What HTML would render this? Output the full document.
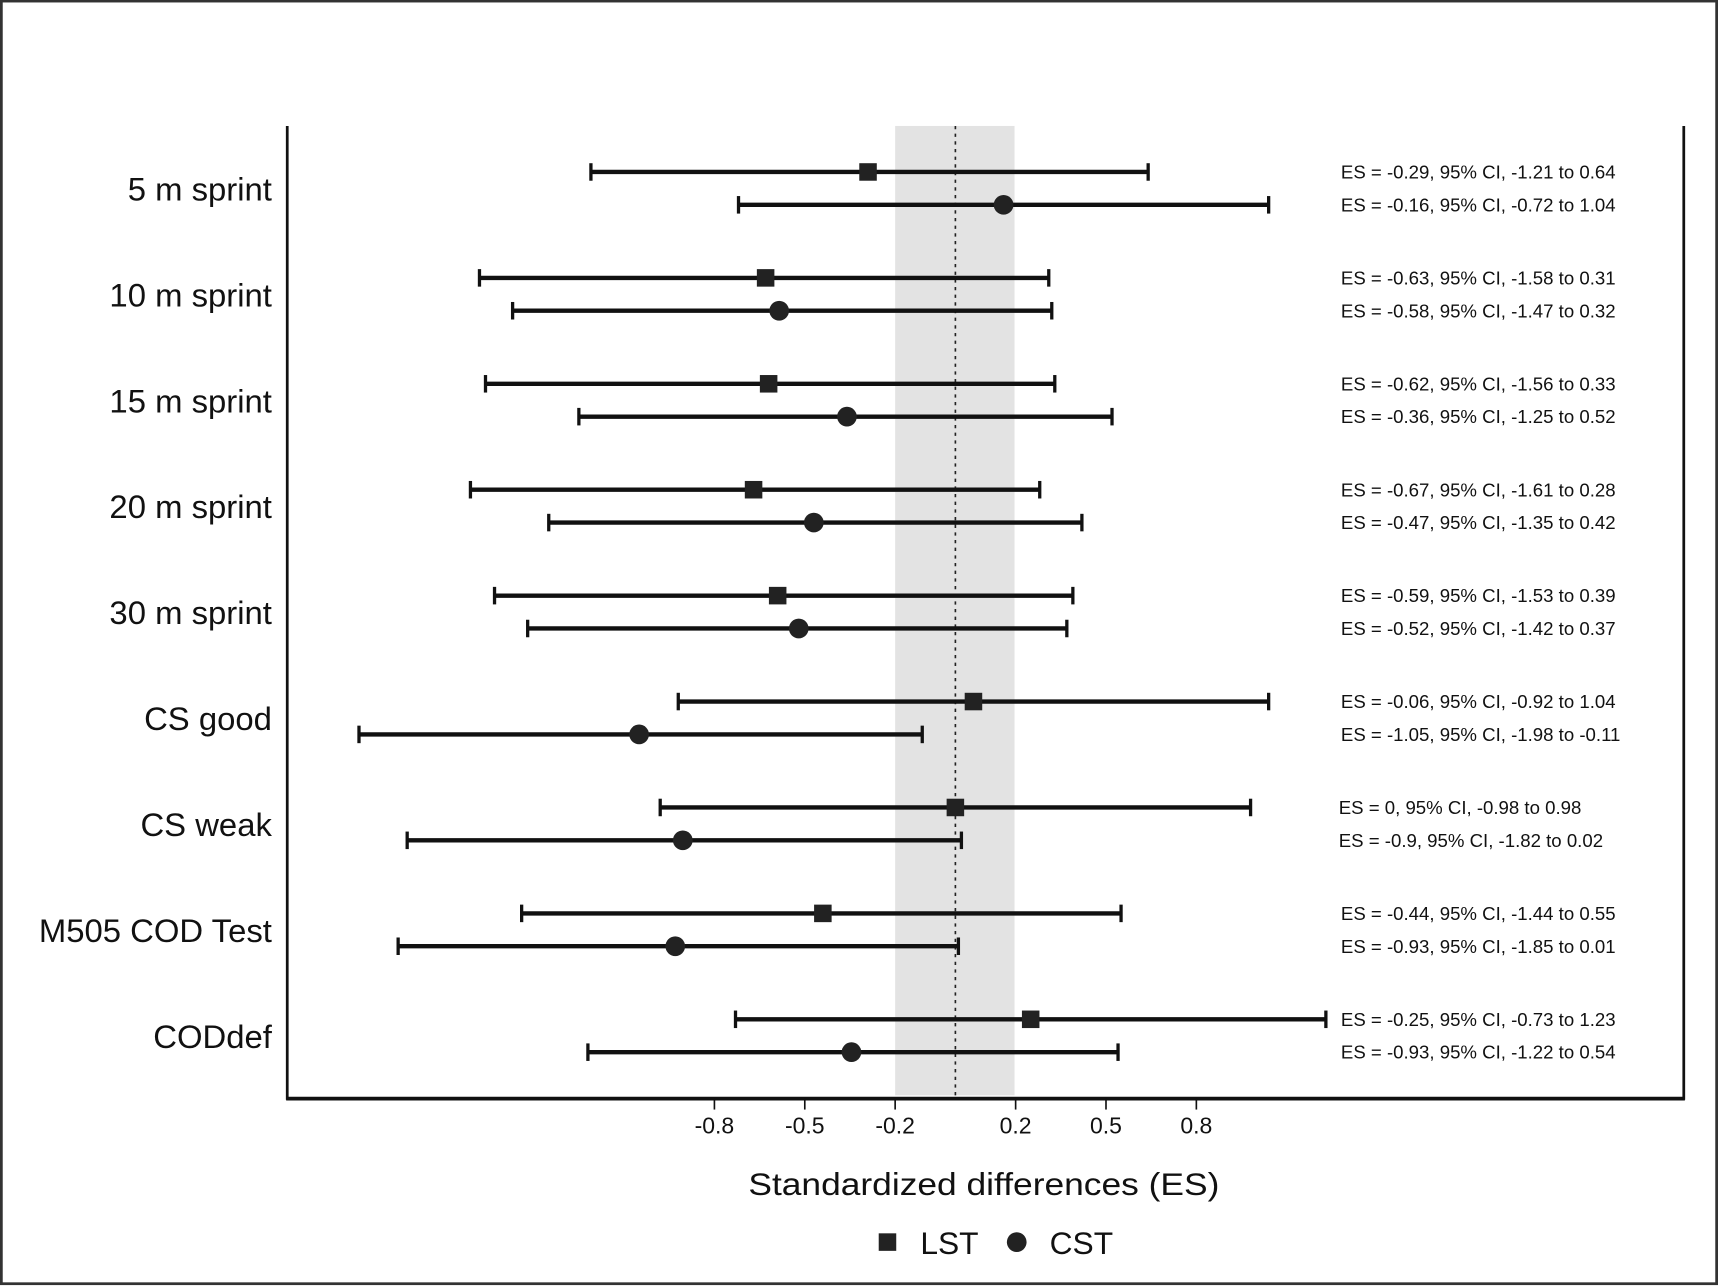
<!DOCTYPE html>
<html><head><meta charset="utf-8"><style>
html,body{margin:0;padding:0;background:#fff;}
svg{display:block;font-family:"Liberation Sans",Arial,sans-serif;}
</style></head><body>
<svg id="chart" width="1718" height="1287" viewBox="0 0 1568 1175" xmlns="http://www.w3.org/2000/svg">
<rect x="1" y="1" width="1566" height="1171" fill="#fff" stroke="#333" stroke-width="2.5"/>
<rect x="817" y="115" width="109" height="885" fill="#e3e3e3"/>
<line x1="872" y1="115" x2="872" y2="1002" stroke="#222" stroke-width="1.5" stroke-dasharray="3,4"/>
<g stroke="#111" fill="none">
<line x1="262" y1="115" x2="262" y2="1004" stroke-width="2.5"/>
<line x1="1537" y1="115" x2="1537" y2="1004" stroke-width="2.5"/>
<line x1="261" y1="1003" x2="1538" y2="1003" stroke-width="3.5"/>
</g>
<g id="ticks"></g>
<g id="rows"></g>
<text x="898" y="1091" font-size="29" text-anchor="middle" textLength="430" lengthAdjust="spacingAndGlyphs" fill="#111">Standardized differences (ES)</text>
<g>
<rect x="802" y="1126" width="16" height="16" fill="#222"/>
<text x="840" y="1145" font-size="29" fill="#111">LST</text>
<circle cx="928" cy="1134" r="9" fill="#222"/>
<text x="958" y="1145" font-size="29" fill="#111">CST</text>
</g>
</svg>
<script>
const categories = ["5 m sprint","10 m sprint","15 m sprint","20 m sprint","30 m sprint","CS good","CS weak","M505 COD Test","CODdef"];
const lstES = [-0.29,-0.63,-0.62,-0.67,-0.59,0.06,0,-0.44,0.25];
const lstLo = [-1.21,-1.58,-1.56,-1.61,-1.53,-0.92,-0.98,-1.44,-0.73];
const lstHi = [0.64,0.31,0.33,0.28,0.39,1.04,0.98,0.55,1.23];
const cstES = [0.16,-0.585,-0.36,-0.47,-0.52,-1.05,-0.905,-0.93,-0.345];
const cstLo = [-0.72,-1.47,-1.25,-1.35,-1.42,-1.98,-1.82,-1.85,-1.22];
const cstHi = [1.04,0.32,0.52,0.42,0.37,-0.11,0.02,0.01,0.54];
const lstLabels = ["ES = -0.29, 95% CI, -1.21 to 0.64","ES = -0.63, 95% CI, -1.58 to 0.31","ES = -0.62, 95% CI, -1.56 to 0.33","ES = -0.67, 95% CI, -1.61 to 0.28","ES = -0.59, 95% CI, -1.53 to 0.39","ES = -0.06, 95% CI, -0.92 to 1.04","ES = 0, 95% CI, -0.98 to 0.98","ES = -0.44, 95% CI, -1.44 to 0.55","ES = -0.25, 95% CI, -0.73 to 1.23"];
const cstLabels = ["ES = -0.16, 95% CI, -0.72 to 1.04","ES = -0.58, 95% CI, -1.47 to 0.32","ES = -0.36, 95% CI, -1.25 to 0.52","ES = -0.47, 95% CI, -1.35 to 0.42","ES = -0.52, 95% CI, -1.42 to 0.37","ES = -1.05, 95% CI, -1.98 to -0.11","ES = -0.9, 95% CI, -1.82 to 0.02","ES = -0.93, 95% CI, -1.85 to 0.01","ES = -0.93, 95% CI, -1.22 to 0.54"];
const tickValues = [-0.8,-0.5,-0.2,0.2,0.5,0.8];
const tickLabels = ["-0.8","-0.5","-0.2","0.2","0.5","0.8"];

const NS="http://www.w3.org/2000/svg";
function xScale(v){return 872+275*v;}
function yRow(i){return 157+96.7*i;}
function mk(tag,attrs,parent){const e=document.createElementNS(NS,tag);for(const k in attrs)e.setAttribute(k,attrs[k]);parent.appendChild(e);return e;}
const tg=document.getElementById('ticks');
tickValues.forEach((v,i)=>{
  const x=xScale(v);
  const t=mk('line',{x1:x,y1:1003,x2:x,y2:1013,stroke:'#111','stroke-width':1.5},tg);
  
  
  const l=mk('text',{x:x,y:1035,'font-size':21,'text-anchor':'middle',fill:'#111'},tg);
  
  
  l.textContent=tickLabels[i];
});
const rg=document.getElementById('rows');
function bar(y,lo,hi,name){
  const g=mk('g',{stroke:'#111'},rg);
  
  
  mk('line',{x1:xScale(lo),y1:y,x2:xScale(hi),y2:y,'stroke-width':4},g);
  mk('line',{x1:xScale(lo),y1:y-8,x2:xScale(lo),y2:y+8,'stroke-width':3},g);
  mk('line',{x1:xScale(hi),y1:y-8,x2:xScale(hi),y2:y+8,'stroke-width':3},g);
}
categories.forEach((c,i)=>{
  const y1=yRow(i), y2=y1+30;
  const cl=mk('text',{x:248,y:y1+26,'font-size':30,'text-anchor':'end',fill:'#111'},rg);
  
  
  cl.textContent=c;
  bar(y1,lstLo[i],lstHi[i],'lst-ci-bar');
  const sq=mk('rect',{x:xScale(lstES[i])-8,y:y1-8,width:16,height:16,fill:'#222'},rg);
  
  
  bar(y2,cstLo[i],cstHi[i],'cst-ci-bar');
  const ci=mk('circle',{cx:xScale(cstES[i]),cy:y2,r:9,fill:'#222'},rg);
  
  
  const tx=(i===6)?1222:1224;
  const a=mk('text',{x:tx,y:y1+6,'font-size':17,fill:'#111'},rg);
  
  
  a.textContent=lstLabels[i];
  const b=mk('text',{x:tx,y:y2+6,'font-size':17,fill:'#111'},rg);
  
  
  b.textContent=cstLabels[i];
});
</script>
</body></html>
